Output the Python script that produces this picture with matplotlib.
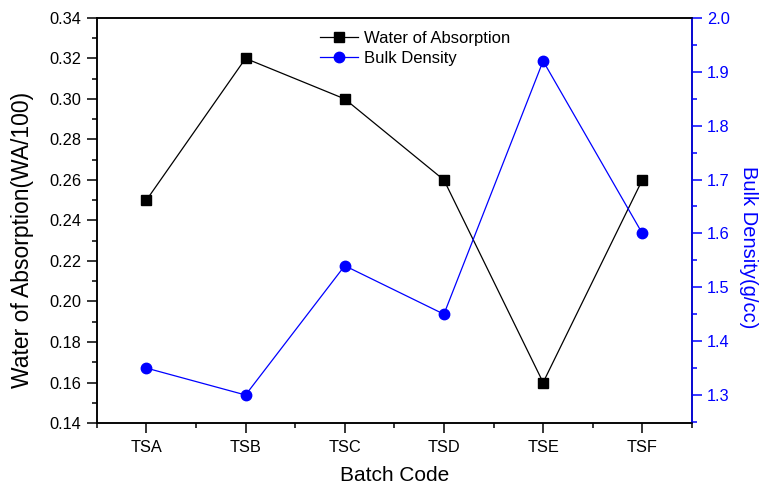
import matplotlib
matplotlib.use("Agg")
import matplotlib.pyplot as plt
from matplotlib.ticker import MultipleLocator, FixedLocator

plt.rcParams['font.family'] = ['Liberation Sans', 'DejaVu Sans']

batches = ['TSA', 'TSB', 'TSC', 'TSD', 'TSE', 'TSF']
water_absorption = [0.25, 0.32, 0.30, 0.26, 0.16, 0.26]
bulk_density = [1.35, 1.30, 1.54, 1.45, 1.92, 1.60]

fig = plt.figure(figsize=(7.62, 4.84), dpi=100)
ax = fig.add_axes([0.127, 0.126, 0.781, 0.837])
ax2 = ax.twinx()

x = list(range(len(batches)))

# water absorption on the left axis
l1, = ax.plot(x, water_absorption, color='black', lw=0.9, marker='s',
              markersize=6.5, label='Water of Absorption')
# bulk density on the right axis
l2, = ax2.plot(x, bulk_density, color='blue', lw=0.9, marker='o',
               markersize=7.5, label='Bulk Density')

ax.set_xlim(-0.5, 5.5)
ax.set_ylim(0.14, 0.34)
ax2.set_ylim(1.248, 2.0)

ax.set_xticks(x)
ax.set_xticklabels(batches)
ax.xaxis.set_minor_locator(FixedLocator([i + 0.5 for i in range(-1, 6)]))
ax.yaxis.set_major_locator(MultipleLocator(0.02))
ax.yaxis.set_minor_locator(MultipleLocator(0.01))
ax.yaxis.set_major_formatter(plt.FormatStrFormatter('%.2f'))
ax2.yaxis.set_major_locator(FixedLocator([1.3, 1.4, 1.5, 1.6, 1.7, 1.8, 1.9, 2.0]))
ax2.yaxis.set_minor_locator(FixedLocator([1.25, 1.35, 1.45, 1.55, 1.65, 1.75, 1.85, 1.95]))
ax2.yaxis.set_major_formatter(plt.FormatStrFormatter('%.1f'))

for a in (ax, ax2):
    a.tick_params(which='major', direction='out', length=7, width=1.1,
                  labelsize=11.8, pad=4)
    a.tick_params(which='minor', direction='out', length=3.6, width=1.1)
    for s in a.spines.values():
        s.set_linewidth(1.1)

ax.tick_params(axis='x', which='both', top=False)
ax.tick_params(axis='x', which='major', pad=5)
ax2.spines['right'].set_color('blue')
ax2.tick_params(axis='y', which='both', colors='blue', labelcolor='blue')

ax.set_xlabel('Batch Code', fontsize=15, labelpad=8)
ax.set_ylabel('Water of Absorption(WA/100)', fontsize=16.5)
ax.yaxis.set_label_coords(-0.105, 0.452)
ax2.set_ylabel('Bulk Density(g/cc)', fontsize=14.5, color='blue', rotation=270,
               ha='center', va='center')
ax2.yaxis.set_label_coords(1.095, 0.435)

ax.legend(handles=[l1, l2], loc='upper left', bbox_to_anchor=(0.375, 0.968),
          frameon=False, fontsize=12, handlelength=2.3, handletextpad=0.35,
          labelspacing=0.32, borderpad=0, borderaxespad=0)

fig.savefig('out.png', dpi=100)
